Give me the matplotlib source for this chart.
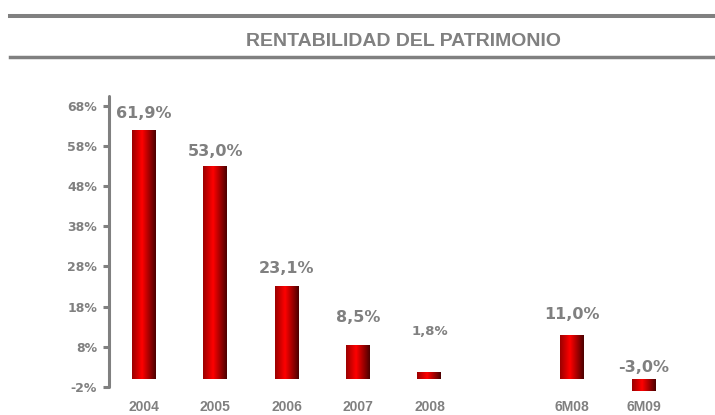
import numpy as np
import matplotlib.pyplot as plt
from matplotlib.colors import LinearSegmentedColormap
from matplotlib.lines import Line2D

categories = ["2004", "2005", "2006", "2007", "2008", "6M08", "6M09"]
positions = [0, 1, 2, 3, 4, 6, 7]
values = [61.9, 53.0, 23.1, 8.5, 1.8, 11.0, -3.0]
labels = ["61,9%", "53,0%", "23,1%", "8,5%", "1,8%", "11,0%", "-3,0%"]
label_y = [65.0, 55.5, 26.4, 14.2, 10.9, 14.9, 1.7]
label_size = [11.5, 11.5, 11.5, 11.5, 9.5, 11.5, 11.5]
yticks = [-2, 8, 18, 28, 38, 48, 58, 68]

GRAY = "#808080"

fig = plt.figure(figsize=(7.15, 4.15), dpi=100)
ax = fig.add_axes([0.1531, 0.048, 0.797, 0.7265])

# bars, filled with a horizontal red gradient
bars = ax.bar(positions, values, width=0.336, color="none", edgecolor="none")
cmap = LinearSegmentedColormap.from_list(
    "barred", [(0, "#9a0000"), (0.42, "#ff0000"), (1, "#4a0000")])
grad = np.linspace(0, 1, 256).reshape(1, -1)
for b in bars:
    x0, y0 = b.get_x(), b.get_y()
    w, h = b.get_width(), b.get_height()
    im = ax.imshow(grad, cmap=cmap, aspect="auto",
                   extent=[x0, x0 + w, y0, y0 + h], zorder=2)
    im.set_clip_path(b)

ax.set_xlim(-0.483, 7.5)
ax.set_ylim(-4, 71)

for s in ["top", "right", "bottom"]:
    ax.spines[s].set_visible(False)
ax.spines["left"].set_color(GRAY)
ax.spines["left"].set_linewidth(2.2)
ax.spines["left"].set_bounds(-2, 70.4)
ax.spines["left"].set_capstyle("round")

ax.set_yticks(yticks)
ax.set_yticklabels([f"{t}%" for t in yticks], fontfamily="DejaVu Sans",
                   fontweight="bold", fontsize=9)
ax.tick_params(axis="y", length=4.5, width=2.2, color=GRAY,
               labelcolor=GRAY, pad=4.5)

ax.set_xticks(positions)
ax.set_xticklabels(categories, fontfamily="Liberation Sans",
                   fontweight="bold", fontsize=10)
ax.tick_params(axis="x", length=0, labelcolor=GRAY, pad=3.5)

for p, ly, lab, fs in zip(positions, label_y, labels, label_size):
    ax.text(p, ly, lab, ha="center", va="baseline", fontsize=fs,
            fontweight="bold", color=GRAY, fontfamily="DejaVu Sans")

fig.text(403 / 715, 1 - 41.7 / 415, "RENTABILIDAD DEL PATRIMONIO",
         ha="center", va="center", fontsize=14, fontweight="bold",
         color=GRAY, fontfamily="Liberation Sans")

fig.add_artist(Line2D([10 / 715, 1], [1 - 16 / 415] * 2, color=GRAY,
                      lw=2.9, transform=fig.transFigure))
fig.add_artist(Line2D([10 / 715, 1], [1 - 57.3 / 415] * 2, color=GRAY,
                      lw=2.5, transform=fig.transFigure))

fig.savefig("out.png", dpi=100)
